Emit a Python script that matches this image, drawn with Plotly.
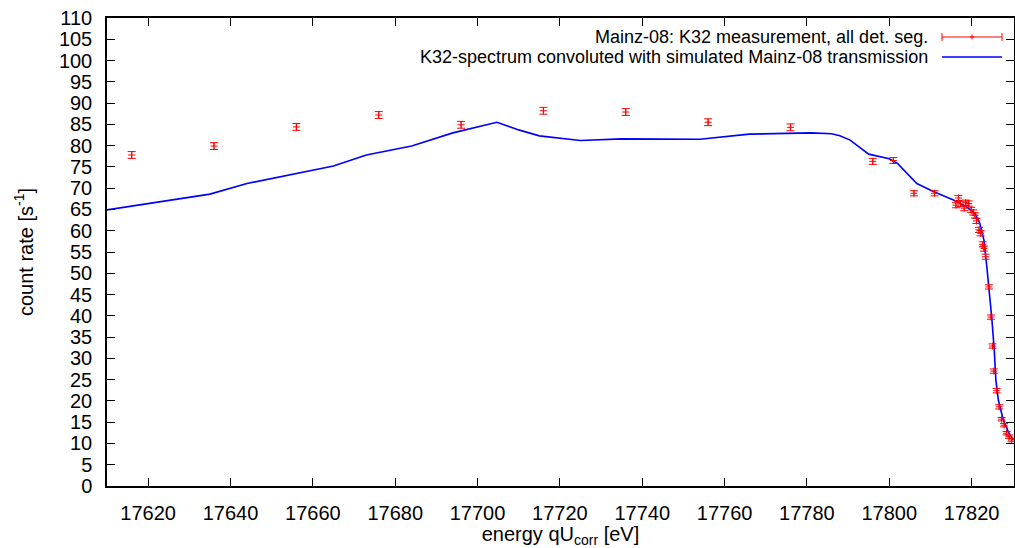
import plotly.graph_objects as go

# measurement points (energy in eV, rate in 1/s, error)
meas_energy = [17616, 17636, 17656, 17676, 17696, 17716, 17736, 17756, 17776,
               17796, 17801, 17806, 17811, 17816.2, 17816.8, 17817.3, 17818.2,
               17818.6, 17819.3, 17819.9, 17820.4, 17820.8, 17821.2, 17821.8,
               17822.2, 17822.7, 17823.0, 17823.4, 17824.2, 17824.7, 17825.1,
               17825.4, 17826.1, 17826.7, 17827.3, 17827.9, 17828.5, 17829.1,
               17829.7]
meas_rate = [77.8, 79.9, 84.4, 87.2, 84.9, 88.2, 87.9, 85.5, 84.3,
             76.3, 76.5, 68.8, 68.8, 66.0, 67.7, 66.3, 65.3,
             66.6, 66.4, 64.9, 64.3, 63.6, 62.3, 60.2,
             59.4, 56.8, 55.8, 53.9, 46.8, 39.7, 32.9,
             27.0, 22.4, 18.6, 15.7, 14.3, 12.4, 11.6,
             10.8]
meas_err = [0.8, 0.8, 0.8, 0.8, 0.8, 0.8, 0.8, 0.8, 0.8,
            0.7, 0.7, 0.6, 0.6, 0.6, 0.6, 0.6, 0.6,
            0.6, 0.6, 0.6, 0.6, 0.6, 0.6, 0.6,
            0.6, 0.6, 0.6, 0.6, 0.5, 0.5, 0.5,
            0.5, 0.5, 0.5, 0.4, 0.4, 0.4, 0.4,
            0.4]

# simulated spectrum
sim_energy = [17610, 17635, 17644, 17665, 17673, 17684, 17694, 17704.7, 17710,
              17715, 17725, 17735, 17754, 17766, 17781, 17786, 17788, 17790.5,
              17795, 17800, 17802, 17806.7, 17810.7, 17815.6, 17818.8, 17820.8,
              17822, 17823, 17823.7, 17824.3, 17824.9, 17825.5, 17825.9,
              17826.5, 17827.7, 17828.9, 17830.1]
sim_rate = [64.9, 68.6, 71.1, 75.2, 77.8, 79.9, 83.0, 85.5, 83.7,
            82.3, 81.2, 81.6, 81.5, 82.7, 83.0, 82.8, 82.3, 81.3,
            78.0, 76.9, 75.8, 71.1, 69.2, 67.2, 65.6, 64.1,
            61.7, 57.8, 51.5, 46.1, 39.5, 32.0, 24.9,
            20.2, 15.5, 12.8, 10.8]

x_ticks = [17620, 17640, 17660, 17680, 17700, 17720, 17740, 17760, 17780, 17800, 17820]
x_labels = [str(v) for v in x_ticks]
y_ticks = list(range(0, 111, 5))
y_labels = [str(v) for v in y_ticks]

FONT = 'Liberation Sans, Arial, sans-serif'

fig = go.Figure()

fig.add_trace(go.Scatter(
    x=sim_energy, y=sim_rate, mode='lines',
    line=dict(color='#0000ff', width=1.6),
    showlegend=False
))

fig.add_trace(go.Scatter(
    x=meas_energy, y=meas_rate, mode='markers',
    marker=dict(symbol='cross-thin', size=5, color='#ff0000',
                line=dict(color='#ff0000', width=1)),
    error_y=dict(type='data', array=meas_err, color='#ff0000',
                 thickness=1, width=4),
    showlegend=False
))

# legend drawn by hand (symbols to the right of the text, gnuplot style)
W, H = 1015, 548
L, R, T, B = 107, 1, 18, 62
pw, ph = W - L - R, H - T - B


def px(x):
    return (x - L) / pw


def py(y):
    return (H - B - y) / ph


fig.add_annotation(x=px(930), y=py(37), xref='paper', yref='paper',
                   text='Mainz-08: K32 measurement, all det. seg.',
                   showarrow=False, xanchor='right', yanchor='middle',
                   font=dict(family=FONT, size=18, color='black'))
fig.add_annotation(x=px(930), y=py(57), xref='paper', yref='paper',
                   text='K32-spectrum convoluted with simulated Mainz-08 transmission',
                   showarrow=False, xanchor='right', yanchor='middle',
                   font=dict(family=FONT, size=18, color='black'))

legend_shapes = [
    (942, 37, 1002, 37), (942, 33, 942, 41), (1002, 33, 1002, 41),
    (972, 34.5, 972, 39.5), (969.5, 37, 974.5, 37),
]
for x0, y0, x1, y1 in legend_shapes:
    fig.add_shape(type='line', xref='paper', yref='paper',
                  x0=px(x0), y0=py(y0), x1=px(x1), y1=py(y1),
                  line=dict(color='#ff0000', width=1))
fig.add_shape(type='line', xref='paper', yref='paper',
              x0=px(942), y0=py(57), x1=px(1002), y1=py(57),
              line=dict(color='#0000ff', width=1.6))

axis_common = dict(
    showgrid=False, zeroline=False, showline=True, linecolor='black',
    linewidth=1.5, mirror='ticks', ticks='inside', ticklen=8,
    tickcolor='black', tickwidth=1, automargin=False,
    tickfont=dict(family=FONT, size=20, color='black'),
)

fig.update_xaxes(
    range=[17610, 17830.3], tickvals=x_ticks, ticktext=x_labels,
    ticklabelstandoff=8,
    title=dict(text='energy qU<sub>corr</sub> [eV]', standoff=0,
               font=dict(family=FONT, size=20, color='black')),
    **axis_common
)
fig.update_yaxes(
    range=[0, 110], tickvals=y_ticks, ticktext=y_labels,
    ticklabelstandoff=9,
    title=dict(text='count rate [s<sup>-1</sup>]', standoff=20,
               font=dict(family=FONT, size=20, color='black')),
    **axis_common
)

fig.update_layout(
    width=W, height=H,
    margin=dict(l=L, r=R, t=T, b=B),
    plot_bgcolor='white', paper_bgcolor='white',
    font=dict(family=FONT, color='black'),
)

# remove the browser's default body margin so the figure sits at (0, 0)
fig.write_html("out.html", config={'displayModeBar': False},
               post_script="document.body.style.margin='0';")
